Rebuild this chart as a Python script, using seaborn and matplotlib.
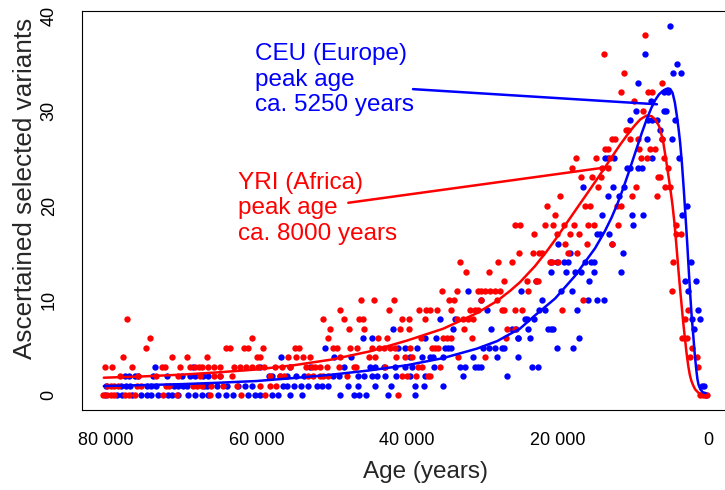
import matplotlib
matplotlib.use("Agg")
import matplotlib.pyplot as plt
import pandas as pd
import seaborn as sns

# ascertained selected variants per age bin (age in kyr, count)
yri_points = [
    # ~80-67 kyr
    (77.2, 8), (74.2, 6), (74.7, 5), (77.7, 4), (71.3, 4), (69.2, 4),
    (80.2, 3), (79.2, 3), (76.5, 3), (72.6, 3), (72.2, 3), (70.2, 3), (68.8, 3), (68.2, 3), (67.7, 3),
    (78.1, 2), (75.7, 2), (73.3, 2), (70.4, 2), (67.5, 2),
    (79.9, 1), (79.4, 1), (78.9, 1), (78.4, 1), (75.9, 1), (75.4, 1), (72.1, 1), (71.6, 1), (68.5, 1), (67.9, 1),
    (80.4, 0), (79.9, 0), (79.4, 0), (79.0, 0), (77.5, 0), (77.0, 0), (76.1, 0), (72.4, 0), (70.6, 0),
    # 67-53 kyr
    (60.6, 6),
    (64.0, 5), (63.5, 5), (61.7, 5), (61.1, 5), (59.2, 5), (54.9, 5), (54.3, 5),
    (66.6, 4), (60.0, 4), (59.5, 4), (55.8, 4), (54.7, 4), (53.8, 4),
    (67.2, 3), (66.4, 3), (65.6, 3), (64.8, 3), (63.0, 3), (62.2, 3), (61.4, 3), (60.6, 3),
    (59.8, 3), (59.0, 3), (57.5, 3), (56.6, 3), (55.5, 3), (53.4, 3),
    (65.7, 2), (64.9, 2), (63.3, 2), (58.2, 2), (56.9, 2), (56.4, 2),
    (67.3, 1), (66.0, 1), (64.4, 1), (62.6, 1), (59.5, 1), (58.2, 1), (57.4, 1),
    (66.2, 0), (62.0, 0), (58.9, 0),
    # 53-39 kyr
    (46.1, 10), (44.4, 10), (41.7, 10), (48.9, 9), (42.4, 9),
    (51.1, 8), (48.4, 8), (46.4, 8), (45.9, 8), (40.7, 8), (39.7, 8),
    (50.2, 7), (47.7, 7), (45.7, 7), (40.9, 7), (39.7, 7),
    (50.5, 6), (43.9, 6), (42.7, 6),
    (49.9, 5), (49.3, 5), (47.6, 5), (46.7, 5), (44.7, 5), (43.7, 5), (43.1, 5), (42.3, 5), (41.6, 5),
    (52.9, 4), (48.9, 4), (45.1, 4), (44.2, 4), (41.4, 4), (40.3, 4), (39.3, 4),
    (52.6, 3), (52.2, 3), (51.6, 3), (50.7, 3), (49.1, 3), (47.1, 3), (46.8, 3), (42.9, 3),
    (53.1, 2), (52.5, 2), (51.6, 2), (51.1, 2), (50.5, 2), (48.0, 2), (40.7, 2), (40.0, 2),
    (41.2, 0),
    # 39-25 kyr
    (32.9, 14), (27.9, 14), (26.1, 14), (32.1, 13), (29.1, 13), (27.1, 12),
    (35.4, 11), (33.4, 11), (30.5, 11), (30.1, 11), (29.6, 11), (29.0, 11), (28.3, 11), (27.6, 11),
    (34.4, 10), (33.8, 10), (30.1, 10), (28.0, 10),
    (38.4, 9), (37.5, 9), (36.9, 9), (36.05, 9), (34.15, 9), (31.6, 9), (31.0, 9), (30.5, 9), (27.4, 9), (27.1, 9),
    (37.6, 8), (33.4, 8), (32.5, 8), (31.9, 8), (31.2, 8),
    (32.4, 7), (26.75, 7),
    (38.2, 6), (35.2, 6), (34.7, 6), (34.1, 6), (31.4, 6), (26.8, 6),
    (39.6, 5), (36.7, 5), (36.3, 5), (35.9, 5),
    (33.2, 4), (29.6, 4),
    (38.6, 3), (38.0, 3), (35.6, 3),
    (38.8, 2), (37.2, 2), (36.9, 2),
    # 25-14 kyr
    (17.6, 25), (14.9, 25), (18.1, 24), (16.9, 23), (15.4, 23), (14.2, 23), (14.6, 22),
    (19.7, 21), (21.35, 20), (16.4, 20), (15.7, 20), (20.3, 19),
    (25.6, 18), (25.0, 18), (21.7, 18), (20.6, 18), (19.1, 18), (17.8, 18), (15.9, 18), (15.1, 18),
    (23.1, 17), (20.1, 17), (18.3, 17), (17.1, 17), (19.0, 16), (16.1, 16),
    (25.1, 15), (23.3, 15), (22.5, 15), (22.1, 15), (18.6, 15), (17.45, 15),
    (21.0, 14), (20.7, 14), (19.9, 14),
    (24.1, 12), (22.8, 12), (22.6, 12), (23.9, 11), (16.6, 10),
    (25.6, 9), (24.7, 9), (19.4, 9), (25.6, 7),
    # 15-5.5 kyr
    (8.37, 38), (13.8, 36), (11.1, 34), (6.1, 33),
    (11.6, 32), (7.9, 32), (7.4, 32), (9.8, 31), (8.6, 30),
    (10.85, 28), (10.6, 28),
    (12.8, 27), (12.35, 27), (10.4, 27), (9.35, 27), (6.1, 27),
    (13.7, 26), (13.3, 26), (9.1, 26), (7.7, 26), (7.1, 26),
    (13.0, 25), (8.9, 25), (8.15, 25), (5.9, 25),
    (14.1, 24), (13.25, 24), (6.6, 23), (6.4, 23), (9.6, 22), (5.7, 22),
    (10.15, 21), (6.8, 21), (12.1, 20), (11.5, 20), (11.9, 18), (12.8, 16),
    # 5.5-0 kyr
    (5.36, 24), (5.05, 22), (4.3, 18), (4.2, 17), (3.6, 17), (4.6, 14), (4.8, 11),
    (2.6, 9), (3.1, 8), (3.5, 6), (2.8, 6), (2.1, 5), (2.4, 4), (1.5, 4), (1.3, 3),
    (1.0, 0), (0.7, 0), (0.4, 0), (0.1, 0),
]

ceu_points = [
    # ~80-67 kyr
    (73.5, 3), (68.4, 3),
    (77.5, 2), (77.0, 2), (76.1, 2), (75.7, 2), (73.7, 2), (71.9, 2), (69.9, 2), (68.8, 2), (68.2, 2),
    (80.0, 1), (78.0, 1), (77.4, 1), (76.8, 1), (74.6, 1), (74.0, 1), (73.4, 1), (71.0, 1),
    (70.4, 1), (69.8, 1), (69.2, 1), (67.0, 1),
    (80.1, 0), (78.6, 0), (77.9, 0), (76.6, 0), (75.3, 0), (74.6, 0), (74.0, 0), (73.1, 0),
    (71.8, 0), (71.3, 0), (70.4, 0), (69.1, 0), (68.2, 0), (67.3, 0),
    # 67-53 kyr
    (56.7, 4), (59.5, 3), (55.5, 3), (52.9, 3),
    (67.1, 2), (66.4, 2), (64.9, 2), (58.4, 2), (58.0, 2), (56.9, 2), (56.0, 2), (54.7, 2), (53.7, 2),
    (66.6, 1), (65.2, 1), (63.9, 1), (62.5, 1), (61.5, 1), (60.6, 1), (56.5, 1), (55.9, 1),
    (55.0, 1), (54.1, 1), (53.2, 1),
    (66.4, 0), (65.1, 0), (64.0, 0), (63.1, 0), (61.1, 0), (60.2, 0), (59.5, 0), (58.0, 0),
    (57.1, 0), (55.5, 0), (54.0, 0),
    # 53-39 kyr
    (41.9, 7), (45.9, 6), (44.7, 6), (50.9, 5), (41.2, 5), (40.3, 5), (49.7, 4), (47.4, 4),
    (48.4, 3), (44.9, 3), (44.3, 3), (43.0, 3), (41.6, 3), (40.3, 3), (39.4, 3),
    (49.8, 2), (49.1, 2), (46.5, 2), (45.7, 2), (44.7, 2), (44.0, 2), (42.9, 2), (41.4, 2), (39.6, 2),
    (51.9, 1), (51.3, 1), (50.5, 1), (47.8, 1), (46.5, 1), (44.3, 1), (42.1, 1),
    (48.9, 0), (47.1, 0), (46.4, 0), (45.4, 0), (42.5, 0),
    # 39-25 kyr
    (31.9, 11), (30.2, 10), (29.3, 9), (35.6, 8), (33.6, 8),
    (33.9, 7), (28.9, 7), (26.1, 7), (25.5, 7), (37.6, 6), (36.1, 6), (25.2, 6),
    (38.7, 5), (35.0, 5), (34.5, 5), (34.1, 5), (29.9, 5), (29.1, 5), (28.3, 5), (27.4, 5), (27.1, 5),
    (39.6, 4), (38.0, 4), (37.0, 4), (36.6, 4), (35.2, 4), (31.2, 4), (28.0, 4), (25.2, 4),
    (36.4, 3), (33.0, 3), (32.3, 3), (31.0, 3), (30.5, 3), (30.2, 3),
    (37.6, 2), (32.6, 2), (26.65, 2), (38.9, 1), (37.8, 1), (35.2, 1), (38.9, 0),
    # 25-14 kyr
    (16.6, 22), (19.9, 16), (18.3, 15),
    (20.8, 14), (20.1, 14), (19.1, 14), (18.65, 14), (16.35, 14), (15.55, 14), (15.2, 14),
    (20.9, 13), (18.9, 13), (17.7, 13), (16.9, 13), (15.1, 13),
    (22.8, 12), (15.8, 12), (24.85, 11), (19.5, 11), (18.1, 11), (22.1, 10), (15.9, 10),
    (22.5, 9), (21.6, 9), (17.4, 9), (24.3, 8), (24.1, 8), (23.1, 8),
    (23.9, 7), (21.3, 7), (20.9, 7), (20.6, 7), (25.3, 6), (23.65, 6), (17.1, 6),
    (20.1, 5), (17.9, 5), (23.4, 3), (22.6, 3),
    # 15-5.5 kyr
    (8.4, 36), (9.35, 33), (5.9, 32), (5.3, 32), (7.6, 31), (9.6, 30), (5.85, 30),
    (10.4, 29), (7.9, 29), (7.5, 29), (6.8, 29), (6.4, 28), (6.1, 27), (8.15, 27),
    (13.7, 25), (13.25, 25), (12.5, 25), (7.4, 25),
    (10.8, 24), (10.4, 24), (9.3, 24), (8.8, 24), (12.6, 22), (11.1, 22), (13.3, 21), (11.8, 21),
    (14.1, 19), (10.15, 19), (8.6, 19), (9.9, 18), (14.8, 17), (14.35, 17), (13.1, 17),
    (12.8, 16), (11.3, 15), (11.55, 13), (14.7, 10), (13.8, 10),
    # 5.5-0 kyr
    (5.1, 39), (4.1, 35), (4.6, 34), (3.6, 34), (5.6, 30), (4.4, 29), (4.8, 27), (3.85, 25),
    (2.8, 20), (3.4, 19), (2.3, 14), (3.06, 12), (1.6, 12), (2.6, 11),
    (1.37, 9), (2.1, 8), (1.06, 8), (1.86, 7), (0.84, 1), (0.49, 1), (0.2, 0),
]

# fitted curves (age kyr, expected count)
ceu_fit_age = [80.3, 75, 70, 65, 60, 55, 50, 45, 40, 35.2, 30.7, 28, 26.3, 25, 23, 20.3, 17.7,
               15, 13.7, 12.8, 12, 11.3, 10.6, 9.7, 8.8, 8.1, 7.5, 7.0, 6.5, 6.0, 5.6, 5.3, 5.0,
               4.7, 4.4, 4.15, 3.9, 3.7, 3.45, 3.2, 2.95, 2.75, 2.55, 2.35, 2.15, 1.95, 1.75,
               1.55, 1.4, 1.25, 1.0, 0.7, 0.3]
ceu_fit = [0.95, 1.05, 1.15, 1.3, 1.48, 1.8, 2.15, 2.6, 3.15, 3.9, 4.9, 5.7, 6.45, 7.0, 8.4, 10.2,
           12.55, 15.5, 17.3, 18.75, 20.25, 21.75, 23.35, 25.5, 27.65, 29.2, 30.35, 31.15, 31.75,
           32.1, 32.3, 32.38, 32.3, 31.9, 30.9, 29.6, 28.1, 26.7, 24.4, 21.6, 18.5, 16.0, 13.2,
           10.6, 8.2, 6.3, 4.3, 2.7, 1.7, 1.1, 0.6, 0.3, 0.2]
yri_fit_age = [80.3, 75, 70, 65, 60, 55, 50, 45, 40, 35.2, 30.7, 28, 26.3, 25, 23, 21.5, 20.3,
               19, 17.7, 16.3, 15, 13.8, 12.8, 11.7, 10.6, 9.8, 9.0, 8.2, 7.5, 7.0, 6.5, 6.0, 5.5,
               5.0, 4.7, 4.4, 4.15, 3.9, 3.7, 3.5, 3.3, 3.1, 2.85, 2.6, 2.4, 2.2, 1.95, 1.7, 1.4,
               1.2, 0.9, 0.6, 0.3]
yri_fit = [1.83, 1.97, 2.15, 2.4, 2.7, 3.15, 3.75, 4.6, 5.75, 7.0, 8.65, 9.95, 11.0, 11.9, 13.6,
           15.1, 16.4, 17.9, 19.4, 21.0, 22.5, 23.9, 25.1, 26.4, 27.6, 28.4, 29.1, 29.5, 29.45,
           29.1, 28.4, 27.0, 24.5, 21.8, 20.0, 17.8, 15.4, 13.0, 11.2, 9.5, 7.8, 6.3, 4.5, 3.0,
           2.1, 1.5, 1.0, 0.6, 0.35, 0.2, 0.1, 0.05, 0.02]

x_ticks = [80000, 60000, 40000, 20000, 0]
x_tick_labels = ["80 000", "60 000", "40 000", "20 000", "0"]
y_ticks = [0, 10, 20, 30, 40]

RED = "#ff0000"
BLUE = "#0000ff"

sns.set_style("white")
plt.rcParams["font.family"] = ["Liberation Sans", "DejaVu Sans"]

ceu = pd.DataFrame(ceu_points, columns=["age", "n"])
yri = pd.DataFrame(yri_points, columns=["age", "n"])
ceu["age"] = ceu["age"] * 1000
yri["age"] = yri["age"] * 1000
ceu_curve = pd.DataFrame({"age": [a * 1000 for a in ceu_fit_age], "n": ceu_fit})
yri_curve = pd.DataFrame({"age": [a * 1000 for a in yri_fit_age], "n": yri_fit})

fig = plt.figure(figsize=(7.25, 4.9), dpi=100)
ax = fig.add_axes([82 / 725, 80 / 490, 650 / 725, 399 / 490])

sns.scatterplot(data=ceu, x="age", y="n", color=BLUE, s=21, linewidth=0, ax=ax, zorder=2)
sns.scatterplot(data=yri, x="age", y="n", color=RED, s=21, linewidth=0, ax=ax, zorder=2)
sns.lineplot(data=yri_curve, x="age", y="n", color=RED, lw=1.8, estimator=None, ax=ax, zorder=3)
sns.lineplot(data=ceu_curve, x="age", y="n", color=BLUE, lw=1.8, estimator=None, ax=ax, zorder=3)

# annotations
ax.text(60200, 33.3, "CEU (Europe)\npeak age\nca. 5250 years", color=BLUE, fontsize=17.5,
        ha="left", va="center", linespacing=1.2)
ax.plot([39200, 6780], [32.3, 30.7], color=BLUE, lw=1.8, zorder=4)
ax.text(62500, 19.7, "YRI (Africa)\npeak age\nca. 8000 years", color=RED, fontsize=17.5,
        ha="left", va="center", linespacing=1.2)
ax.plot([47800, 13000], [20.3, 24.1], color=RED, lw=1.8, zorder=4)

ax.set_xlim(83200, -3200)
ax.set_ylim(-1.58, 40.55)
ax.set_xticks(x_ticks)
ax.set_xticklabels(x_tick_labels)
ax.set_yticks(y_ticks)
for lab in ax.get_yticklabels():
    lab.set_rotation(90)
    lab.set_va("center")
ax.tick_params(axis="both", direction="out", length=5.5, width=0.8, color="black",
               labelsize=13, labelcolor="black")
ax.tick_params(axis="x", pad=10.5)
ax.tick_params(axis="y", pad=12)
for sp in ax.spines.values():
    sp.set_visible(True)
    sp.set_color("black")
    sp.set_linewidth(0.8)

ax.set_xlabel("Age (years)", fontsize=17.5)
ax.set_ylabel("Ascertained selected variants", fontsize=18.8)
ax.xaxis.set_label_coords((425 - 82) / 650, -(472 - 410) / 399)
ax.xaxis.label.set_va("center")
ax.yaxis.set_label_coords((25 - 82) / 650, (410 - 188) / 399)
ax.yaxis.label.set_va("center")

fig.savefig("out.png", dpi=100)
plt.close(fig)
